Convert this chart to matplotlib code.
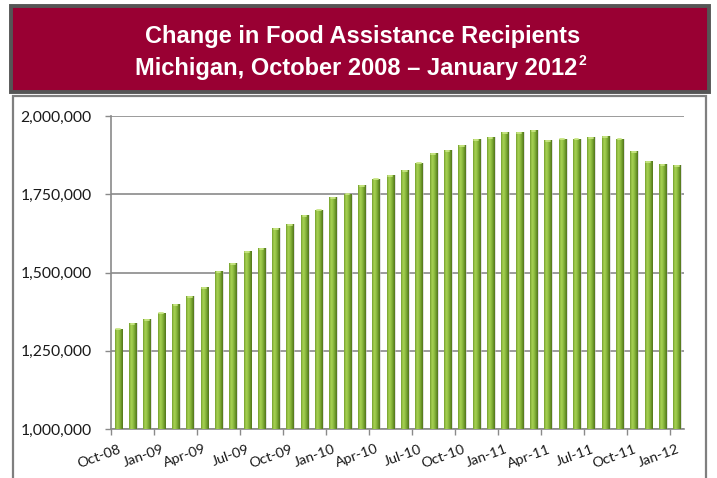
import numpy as np
import matplotlib
matplotlib.use('Agg')
import matplotlib.pyplot as plt
from matplotlib.patches import Rectangle
from matplotlib.colors import LinearSegmentedColormap
from matplotlib.ticker import FuncFormatter

# monthly recipients, Oct-08 .. Jan-12
months = ['Oct-08', 'Nov-08', 'Dec-08', 'Jan-09', 'Feb-09', 'Mar-09', 'Apr-09', 'May-09',
          'Jun-09', 'Jul-09', 'Aug-09', 'Sep-09', 'Oct-09', 'Nov-09', 'Dec-09', 'Jan-10',
          'Feb-10', 'Mar-10', 'Apr-10', 'May-10', 'Jun-10', 'Jul-10', 'Aug-10', 'Sep-10',
          'Oct-10', 'Nov-10', 'Dec-10', 'Jan-11', 'Feb-11', 'Mar-11', 'Apr-11', 'May-11',
          'Jun-11', 'Jul-11', 'Aug-11', 'Sep-11', 'Oct-11', 'Nov-11', 'Dec-11', 'Jan-12']
recipients = [1321000, 1338000, 1351000, 1372000, 1398000, 1424000, 1453000, 1505000,
              1531000, 1569000, 1577000, 1642000, 1655000, 1684000, 1701000, 1740000,
              1752000, 1779000, 1800000, 1810000, 1826000, 1851000, 1881000, 1890000,
              1907000, 1925000, 1932000, 1949000, 1949000, 1954000, 1924000, 1928000,
              1928000, 1932000, 1936000, 1928000, 1889000, 1855000, 1847000, 1843000]
yticks = [1000000, 1250000, 1500000, 1750000, 2000000]

W, H = 717, 478
fig = plt.figure(figsize=(W / 100, H / 100), dpi=100)

# title band
fig.patches.append(Rectangle((11 / W, 1 - 92 / H), 698 / W, 86 / H, transform=fig.transFigure,
                             facecolor='#990033', edgecolor='#555555', linewidth=2.8, zorder=-2))
# chart frame
fig.patches.append(Rectangle((13 / W, -0.05), 693 / W, 1 - 96 / H + 0.05, transform=fig.transFigure,
                             facecolor='white', edgecolor='#7f7f7f', linewidth=1.6, zorder=-2))

fig.text(363 / W, 1 - 36 / H, 'Change in Food Assistance Recipients', color='white',
         fontsize=17, fontweight='bold', family='Liberation Sans', ha='center', va='center')
t2 = fig.text(356 / W, 1 - 68 / H, 'Michigan, October 2008 \u2013 January 2012', color='white',
              fontsize=17, fontweight='bold', family='Liberation Sans', ha='center', va='center')
fig.canvas.draw()
bb = t2.get_window_extent()
fig.text((bb.x1 + 1) / W, 1 - 61 / H, '2', color='white', fontsize=10, fontweight='bold',
         family='Liberation Sans', ha='left', va='center')

ax = fig.add_axes([111 / W, 1 - 429 / H, (684 - 111) / W, (429 - 116) / H], zorder=2)
ax.set_facecolor('none')

x = np.arange(len(months))
vals = np.array(recipients)

# shadow behind bars
ax.bar(x + 0.12, vals - 1000000, bottom=1000000, width=0.5, color='#c8c8c8', alpha=0.55,
       linewidth=0, zorder=2)
bars = ax.bar(x, vals - 1000000, bottom=1000000, width=0.5, color='#8cb83d', linewidth=0, zorder=3)

# cylinder-like shading
cmap = LinearSegmentedColormap.from_list('bar', ['#6e9a2a', '#aad454', '#95c246', '#72a02c', '#50711b'])
grad = np.linspace(0, 1, 64).reshape(1, -1)
for b in bars:
    x0, y0 = b.get_x(), b.get_y()
    im = ax.imshow(grad, extent=[x0, x0 + b.get_width(), y0, y0 + b.get_height()],
                   aspect='auto', cmap=cmap, zorder=4, interpolation='bicubic')
    im.set_clip_path(b)
    # light cap on top
    ax.plot([x0 + 0.12, x0 + 0.38], [y0 + b.get_height() - 2500] * 2, color='#c9e685',
            linewidth=1.3, zorder=5, solid_capstyle='round')

ax.set_xlim(-0.5, len(months) - 0.5)
ax.set_ylim(1000000, 2000000)

ax.set_yticks(yticks)
ax.yaxis.set_major_formatter(FuncFormatter(lambda v, p: f'{int(v):,}'))
ax.grid(axis='y', color='#8a8a8a', linewidth=1.2, zorder=1)
ax.set_axisbelow(True)

ax.set_xticks(x[::3])
ax.set_xticklabels(months[::3], rotation=20, ha='right', va='top', rotation_mode='anchor')
ax.set_xticks(np.arange(-0.5, len(months), 3), minor=True)
ax.tick_params(axis='x', which='major', length=0, pad=10, labelsize=10.3, labelcolor='#1a1a1a')
ax.tick_params(axis='x', which='minor', length=4, color='#8a8a8a', width=1)
ax.tick_params(axis='y', length=4, color='#8a8a8a', width=1, pad=10, labelsize=11.3,
               labelcolor='#1a1a1a')
for lab in ax.get_xticklabels() + ax.get_yticklabels():
    lab.set_family('Lato')

for s in ['top', 'right']:
    ax.spines[s].set_visible(False)
for s in ['left', 'bottom']:
    ax.spines[s].set_color('#8a8a8a')
    ax.spines[s].set_linewidth(1.2)

fig.savefig('out.png', dpi=100)
